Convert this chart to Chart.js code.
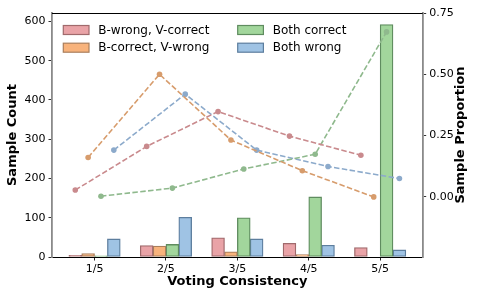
<!DOCTYPE html>
<html>
<head>
<meta charset="utf-8">
<script src="https://cdn.jsdelivr.net/npm/chart.js@4.4.1/dist/chart.umd.min.js"></script>
<style>
  html, body { margin: 0; padding: 0; background: #fff; }
  #wrap { width: 478px; height: 299px; }
</style>
</head>
<body>
<div id="wrap"><canvas id="chart" width="478" height="299"></canvas></div>
<script>
// data
const categories = ['1/5', '2/5', '3/5', '4/5', '5/5'];
const seriesNames = ['B-wrong, V-correct', 'B-correct, V-wrong', 'Both correct', 'Both wrong'];

const countBWrongVCorrect = [4, 29, 49, 35, 24];
const countBCorrectVWrong = [9, 28, 13, 6, 0];
const countBothCorrect = [3, 32, 100, 153, 592];
const countBothWrong = [46, 101, 46, 30, 18];

const propBWrongVCorrect = [0.028, 0.206, 0.348, 0.248, 0.170];
const propBCorrectVWrong = [0.161, 0.500, 0.232, 0.107, 0.000];
const propBothCorrect = [0.003, 0.036, 0.114, 0.174, 0.673];
const propBothWrong = [0.191, 0.419, 0.191, 0.124, 0.075];

const countTicks = [0, 100, 200, 300, 400, 500, 600];
const propTicks = [0.00, 0.25, 0.50, 0.75];

// styling
const barOffsets = [-0.27, -0.09, 0.09, 0.27];
const barFills = ['#e9a3a7', '#f8b37c', '#a2d69c', '#9fc3e4'];
const barEdges = ['#a06a6c', '#aa7f5c', '#5f8c5f', '#5d7e9e'];
const lineColors = ['#c98a8d', '#d79c6c', '#8fb98d', '#8caacb'];
const tickFont = { family: 'DejaVu Sans', size: 11 };
const titleFont = { family: 'DejaVu Sans', size: 13, weight: 'bold' };

const counts = [countBWrongVCorrect, countBCorrectVWrong, countBothCorrect, countBothWrong];
const props = [propBWrongVCorrect, propBCorrectVWrong, propBothCorrect, propBothWrong];

function toPoints(values, k) {
  return values.map(function(v, i) { return { x: i + barOffsets[k], y: v }; });
}

var datasets = [];
for (var k = 0; k < 4; k++) {
  datasets.push({
    type: 'bar',
    label: seriesNames[k],
    data: toPoints(counts[k], k),
    xAxisID: 'x',
    yAxisID: 'y',
    backgroundColor: barFills[k],
    borderColor: barEdges[k],
    borderWidth: 1.3,
    borderSkipped: false,
    grouped: false,
    barPercentage: 1,
    categoryPercentage: 1,
    order: 2,
  });
}
for (var k = 0; k < 4; k++) {
  datasets.push({
    type: 'line',
    label: seriesNames[k] + ' (proportion)',
    data: toPoints(props[k], k),
    xAxisID: 'x',
    yAxisID: 'y1',
    borderColor: lineColors[k],
    backgroundColor: lineColors[k],
    borderWidth: 1.6,
    borderDash: [5.5, 2.4],
    pointRadius: 2.8,
    pointBorderWidth: 0,
    pointBackgroundColor: lineColors[k],
    fill: false,
    tension: 0,
    order: 0,
  });
}

// top spine, right axis title, two-column legend
const extras = {
  id: 'extras',
  afterDraw(chart) {
    const ctx = chart.ctx;
    const area = chart.chartArea;
    ctx.save();
    ctx.strokeStyle = '#000';
    ctx.lineWidth = 1;
    ctx.beginPath();
    ctx.moveTo(area.left, area.top + 0.5);
    ctx.lineTo(area.right, area.top + 0.5);
    ctx.stroke();

    ctx.save();
    ctx.translate(461, (area.top + area.bottom) / 2);
    ctx.rotate(-Math.PI / 2);
    ctx.font = 'bold 13px "DejaVu Sans"';
    ctx.fillStyle = '#000';
    ctx.textAlign = 'center';
    ctx.textBaseline = 'middle';
    ctx.fillText('Sample Proportion', 0, 0);
    ctx.restore();

    // legend, column-major like matplotlib ncol=2
    const colX = [area.left + 11.3, area.left + 185.7];
    const rowY = [area.top + 17, area.top + 34.7];
    ctx.font = '12px "DejaVu Sans"';
    ctx.textAlign = 'left';
    ctx.textBaseline = 'middle';
    for (var k = 0; k < 4; k++) {
      var cx = colX[Math.floor(k / 2)];
      var cy = rowY[k % 2];
      ctx.fillStyle = barFills[k];
      ctx.fillRect(cx, cy - 4.5, 25.7, 9);
      ctx.strokeStyle = barEdges[k];
      ctx.lineWidth = 1.2;
      ctx.strokeRect(cx, cy - 4.5, 25.7, 9);
      ctx.fillStyle = '#000';
      ctx.fillText(seriesNames[k], cx + 35, cy + 0.5);
    }
    ctx.restore();
  }
};

new Chart(document.getElementById('chart'), {
  type: 'bar',
  data: { datasets: datasets },
  options: {
    responsive: false,
    animation: false,
    layout: { padding: { top: 13, left: 0, right: 0, bottom: 0 } },
    plugins: {
      legend: { display: false },
      tooltip: { enabled: false },
    },
    scales: {
      x: {
        type: 'linear',
        position: 'bottom',
        offset: false,
        min: -0.596,
        max: 4.596,
        afterBuildTicks: function(scale) {
          scale.ticks = categories.map(function(c, i) { return { value: i }; });
        },
        afterFit: function(scale) { scale.height = 42; },
        ticks: {
          font: tickFont,
          color: '#000',
          padding: 2,
          maxRotation: 0,
          autoSkip: false,
          callback: function(v) { return categories[v] !== undefined ? categories[v] : ''; },
        },
        grid: { offset: false, drawOnChartArea: false, drawTicks: true, tickLength: 3.5, color: '#222' },
        border: { color: '#000', width: 1 },
        title: { display: true, text: 'Voting Consistency', font: titleFont, color: '#000', padding: { top: 0, bottom: 10 } },
      },
      y: {
        type: 'linear',
        position: 'left',
        min: 0,
        max: 621.6,
        afterBuildTicks: function(scale) {
          scale.ticks = countTicks.map(function(v) { return { value: v }; });
        },
        afterFit: function(scale) { scale.width = 52; },
        ticks: { font: tickFont, color: '#000', padding: 3 },
        grid: { drawOnChartArea: false, drawTicks: true, tickLength: 3.5, color: '#333' },
        border: { color: '#8a8a8a', width: 1.8 },
        title: { display: true, text: 'Sample Count', font: titleFont, color: '#000', padding: { top: 5, bottom: 0 } },
      },
      y1: {
        type: 'linear',
        position: 'right',
        min: -0.245,
        max: 0.75,
        afterBuildTicks: function(scale) {
          scale.ticks = propTicks.map(function(v) { return { value: v }; });
        },
        afterFit: function(scale) { scale.width = 55.3; },
        ticks: {
          font: tickFont,
          color: '#000',
          padding: 3,
          callback: function(v) { return Number(v).toFixed(2); },
        },
        grid: { drawOnChartArea: false, drawTicks: true, tickLength: 3.5, color: '#333' },
        border: { color: '#8a8a8a', width: 1.8 },
      },
    },
  },
  plugins: [extras],
});
</script>
</body>
</html>
